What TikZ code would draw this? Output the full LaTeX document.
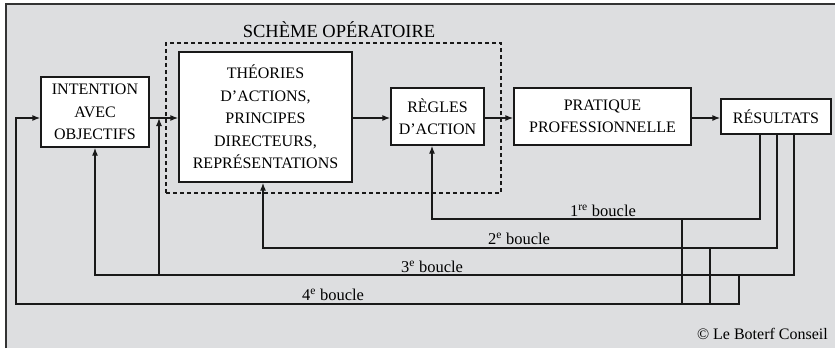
\documentclass[tikz,border=0pt]{standalone}
\usepackage{fontspec}
\setmainfont{Liberation Serif}
\usetikzlibrary{arrows.meta}
\definecolor{fondgris}{RGB}{221,222,224}
\definecolor{trait}{RGB}{25,25,25}

\begin{document}
\begin{tikzpicture}[x=1pt, y=-1pt, >={Latex[length=8pt,width=6pt]},
    bloc/.style={draw=trait, fill=white, line width=1.3pt, align=center, inner sep=0pt,
                 font=\fontsize{16}{22.5}\selectfont},
    fleche/.style={->, draw=trait, line width=1.3pt},
    ligne/.style={draw=trait, line width=1.3pt},
    etiq/.style={inner sep=0pt, font=\fontsize{16.5}{19}\selectfont}]
    % fond et cadre
    \useasboundingbox (0,0) rectangle (835,348);
    \fill[fondgris] (6,4) rectangle (835,348);
    \draw[line width=1.4pt, black!80] (6,348) -- (6,4) -- (835,4);

    % schème opératoire
    \node[draw=trait, dashed, dash pattern=on 4pt off 3pt, line width=1.2pt,
          minimum width=335pt, minimum height=150pt] (scheme) at (333.5,118) {};
    \node[etiq, font=\fontsize{18.5}{20}\selectfont] (titre) at (339,30) {SCHÈME OPÉRATOIRE};

    % blocs
    \node[bloc, minimum width=108pt, minimum height=70pt] (intention) at (95,112) {INTENTION\\AVEC\\OBJECTIFS};
    \node[bloc, minimum width=173pt, minimum height=130pt] (theories) at (265.5,117) {THÉORIES\\D’ACTIONS,\\PRINCIPES\\DIRECTEURS,\\REPRÉSENTATIONS};
    \node[bloc, minimum width=93pt, minimum height=57pt] (regles) at (437.5,116.5) {RÈGLES\\D’ACTION};
    \node[bloc, minimum width=177pt, minimum height=57pt] (pratique) at (602.5,116.5) {PRATIQUE\\PROFESSIONNELLE};
    \node[bloc, minimum width=110pt, minimum height=35pt] (resultats) at (776,116.5) {RÉSULTATS};

    % chaîne principale
    \coordinate (axe) at (0,118);
    \draw[fleche] (intention.east |- axe) -- (theories.west |- axe);
    \draw[fleche] (theories.east |- axe) -- (regles.west |- axe);
    \draw[fleche] (regles.east |- axe) -- (pratique.west |- axe);
    \draw[fleche] (pratique.east |- axe) -- (resultats.west |- axe);

    % boucles de retour
    \coordinate (v1) at (760,0);
    \coordinate (v2) at (777,0);
    \coordinate (v3) at (794,0);
    \coordinate (b1) at (432,219);
    \coordinate (b2) at (263,248);
    \coordinate (b3) at (95,275);
    \coordinate (b4) at (16,304);
    \coordinate (j3) at (159,275);
    \coordinate (d1) at (682,219);
    \coordinate (d2) at (710,248);
    \coordinate (d3) at (739,275);

    \draw[fleche] (resultats.south -| v1) |- (b1) -- (regles.south -| b1);
    \draw[fleche] (resultats.south -| v2) |- (b2) -- (theories.south -| b2);
    \draw[fleche] (resultats.south -| v3) |- (b3) -- (intention.south);
    \draw[fleche] (j3) -- (j3 |- axe);
    \draw[fleche] (d3) |- (b4) |- (intention.west |- axe);
    \draw[ligne] (d1) -- (d1 |- b4);
    \draw[ligne] (d2) -- (d2 |- b4);

    % étiquettes
    \node[etiq] (l1) at (603,211) {1\textsuperscript{re} boucle};
    \node[etiq] (l2) at (519,239) {2\textsuperscript{e} boucle};
    \node[etiq] (l3) at (432,267) {3\textsuperscript{e} boucle};
    \node[etiq] (l4) at (333,295) {4\textsuperscript{e} boucle};
    \node[etiq, font=\fontsize{16}{19}\selectfont, anchor=east] (copy) at (828,334) {© Le Boterf Conseil};
\end{tikzpicture}
\end{document}
